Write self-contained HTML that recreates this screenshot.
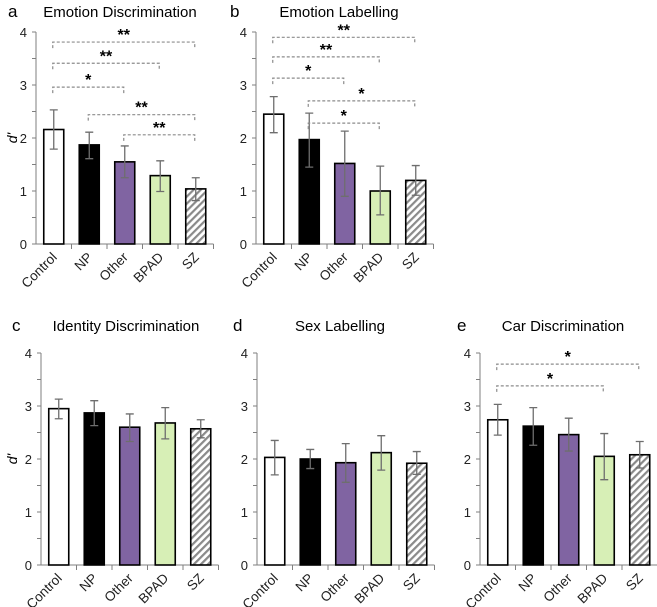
<!DOCTYPE html>
<html><head><meta charset="utf-8"><style>
body{margin:0;background:#fff;font-family:"Liberation Sans",Arial,sans-serif}
svg{display:block}
</style></head><body>
<svg id="fig" width="657" height="607" viewBox="0 0 657 607">
<defs><pattern id="hatch" patternUnits="userSpaceOnUse" width="5" height="5" patternTransform="rotate(45)"><rect width="5" height="5" fill="#fff"/><rect width="2.2" height="5" fill="#8a8a8a"/></pattern></defs>
</svg>
<script>
const categories=["Control","NP","Other","BPAD","SZ"];
const fills=["#ffffff","#000000","#8064a2","#d7efb6","url(#hatch)"];
const yTicks=[0,1,2,3,4];
const meansA=[2.16,1.87,1.55,1.29,1.04], lowA=[1.79,1.61,1.25,0.99,0.82], highA=[2.53,2.11,1.85,1.57,1.25];
const meansB=[2.45,1.97,1.52,1.0,1.2], lowB=[2.1,1.45,0.9,0.55,0.92], highB=[2.78,2.47,2.13,1.47,1.48];
const meansC=[2.95,2.87,2.6,2.68,2.57], lowC=[2.76,2.63,2.33,2.38,2.4], highC=[3.13,3.1,2.85,2.97,2.74];
const meansD=[2.03,2.0,1.93,2.12,1.92], lowD=[1.7,1.82,1.56,1.79,1.71], highD=[2.35,2.18,2.29,2.44,2.14];
const meansE=[2.74,2.62,2.46,2.05,2.08], lowE=[2.45,2.26,2.15,1.61,1.83], highE=[3.03,2.97,2.77,2.48,2.33];
const sigA=[[0,4,3.81,"**"],[0,3,3.41,"**"],[0,2,2.96,"*"],[1,4,2.44,"**"],[2,4,2.06,"**"]];
const sigB=[[0,4,3.9,"**"],[0,3,3.53,"**"],[0,2,3.13,"*"],[1,4,2.7,"*"],[1,3,2.28,"*"]];
const sigE=[[0,4,3.79,"*"],[0,3,3.38,"*"]];
const panels=[
 {letter:"a",title:"Emotion Discrimination",ax:36,y0:244,means:meansA,low:lowA,high:highA,sig:sigA,ylab:true,lx:8,tx:120,ty:17},
 {letter:"b",title:"Emotion Labelling",ax:256,y0:244,means:meansB,low:lowB,high:highB,sig:sigB,ylab:false,lx:230,tx:339,ty:17},
 {letter:"c",title:"Identity Discrimination",ax:41,y0:565,means:meansC,low:lowC,high:highC,sig:[],ylab:true,lx:12,tx:126,ty:331},
 {letter:"d",title:"Sex Labelling",ax:257,y0:565,means:meansD,low:lowD,high:highD,sig:[],ylab:false,lx:233,tx:340,ty:331},
 {letter:"e",title:"Car Discrimination",ax:480,y0:565,means:meansE,low:lowE,high:highE,sig:sigE,ylab:false,lx:457,tx:563,ty:331}
];
const NS="http://www.w3.org/2000/svg";
const svg=document.getElementById("fig");
function mk(tag,attrs,parent,text){const e=document.createElementNS(NS,tag);for(const k in attrs)e.setAttribute(k,attrs[k]);if(text!==undefined)e.textContent=text;(parent||svg).appendChild(e);return e;}
const UNIT=53, CW=35.5, BW=20;
panels.forEach(p=>{
 const g=mk("g",{});
 
 
 const y=v=>p.y0-v*UNIT;
 const xc=i=>p.ax+CW*(i+0.5);
 const L=mk("text",{x:p.lx,y:p.ty,"font-size":17,fill:"#000"},g,p.letter);
 
 
 const T=mk("text",{x:p.tx,y:p.ty,"font-size":15,"text-anchor":"middle",fill:"#000"},g,p.title);
 
 
 const ya=mk("line",{x1:p.ax,y1:y(4),x2:p.ax,y2:p.y0,stroke:"#7f7f7f","stroke-width":1},g);
 
 
 const xa=mk("line",{x1:p.ax-4,y1:p.y0,x2:p.ax+CW*5,y2:p.y0,stroke:"#7f7f7f","stroke-width":1},g);
 
 
 for(let v=0;v<=4;v+=0.5){mk("line",{x1:p.ax-4,y1:y(v),x2:p.ax,y2:y(v),stroke:"#7f7f7f"},g);}
 yTicks.forEach(v=>{const t=mk("text",{x:p.ax-9,y:y(v)+5,"font-size":13,"text-anchor":"end",fill:"#222"},g,String(v));
  
  });
 for(let i=1;i<=5;i++){mk("line",{x1:p.ax+CW*i,y1:p.y0,x2:p.ax+CW*i,y2:p.y0+5,stroke:"#7f7f7f"},g);}
 if(p.ylab){const t=mk("text",{x:0,y:0,"font-size":14,"font-style":"italic","text-anchor":"middle",transform:`translate(17,${y(2)}) rotate(-90)`},g,"d'");
  
  }
 p.means.forEach((m,i)=>{
  const r=mk("rect",{x:xc(i)-BW/2,y:y(m),width:BW,height:y(0)-y(m),fill:fills[i],stroke:"#000","stroke-width":1.6},g);
  
  
  const e=mk("path",{d:`M${xc(i)},${y(p.low[i])}V${y(p.high[i])}M${xc(i)-4},${y(p.low[i])}h8M${xc(i)-4},${y(p.high[i])}h8`,stroke:"#6e6e6e","stroke-width":1.3,fill:"none"},g);
  
  
  const lx=xc(i)+4, ly=p.y0+14;
  const t=mk("text",{x:0,y:0,"font-size":13.5,"text-anchor":"end",fill:"#222",transform:`translate(${lx},${ly}) rotate(-45)`},g,categories[i]);
  
  
 });
 p.sig.forEach(s=>{
  const x1=xc(s[0])-1,x2=xc(s[1])-1,yy=y(s[2]);
  const b=mk("path",{d:`M${x1},${yy+6}V${yy}H${x2}V${yy+6}`,stroke:"#8c8c8c","stroke-width":1.2,fill:"none","stroke-dasharray":"3,2"},g);
  
  
  const t=mk("text",{x:(x1+x2)/2,y:yy-2,"font-size":16,"font-weight":"bold","text-anchor":"middle"},g,s[3]);
  
  
 });
});
</script>
</body></html>
